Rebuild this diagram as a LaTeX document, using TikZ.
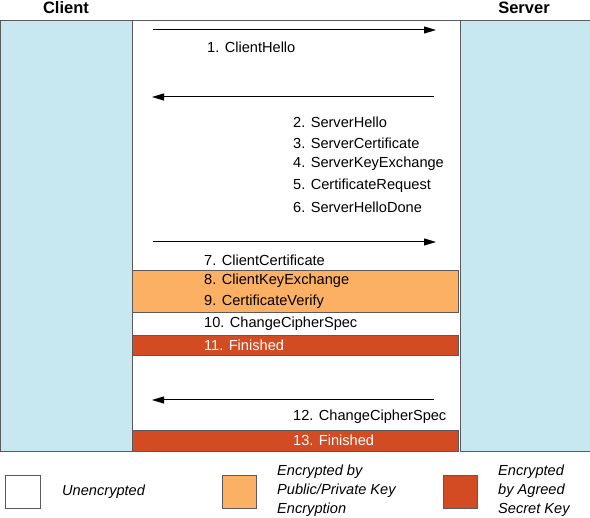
\documentclass[tikz,border=0pt]{standalone}
\usepackage{fontspec}
\setmainfont{Liberation Sans}
\usetikzlibrary{arrows.meta}
\definecolor{lblue}{RGB}{199,232,240}
\definecolor{orng}{RGB}{252,176,100}
\definecolor{rred}{RGB}{210,75,35}
\definecolor{edge}{RGB}{90,90,90}
\begin{document}
\begin{tikzpicture}[x=1pt,y=-1pt,
  lbl/.style={anchor=west,inner sep=0pt,font=\fontsize{14.6}{16}\selectfont},
  hdr/.style={inner sep=0pt,font=\fontsize{16.5}{18}\selectfont\bfseries},
  msg/.style={-{Triangle[length=12pt,width=7pt]},line width=1pt},
  band/.style={draw=edge,line width=0.8pt},
  leg/.style={anchor=west,inner sep=0pt,align=left,font=\fontsize{14.6}{19}\selectfont\itshape}]
\useasboundingbox (0,0) rectangle (590,518);
% columns
\fill[lblue,draw=edge,line width=0.8pt] (0,20) rectangle (132,451);
\fill[lblue,draw=edge,line width=0.8pt] (460,20) rectangle (590,451);
\draw[edge,line width=0.8pt] (0,20) -- (590,20);
\draw[edge,line width=0.8pt] (132,20) -- (132,451);
\draw[edge,line width=0.8pt] (460,20) -- (460,451);
\node[hdr] (client) at (66,8) {Client};
\node[hdr] (server) at (524,8) {Server};
% arrow 1
\coordinate (a1s) at (153,30); \coordinate (a1e) at (436,30);
\draw[msg] (a1s) -- (a1e);
\node[lbl] (m1) at (207,47) {1. ClientHello};
% arrow 2
\coordinate (a2s) at (434,97); \coordinate (a2e) at (152,97);
\draw[msg] (a2s) -- (a2e);
\node[lbl] (m2) at (293,122) {2. ServerHello};
\node[lbl] (m3) at (293,143) {3. ServerCertificate};
\node[lbl] (m4) at (293,164) {4. ServerKeyExchange};
\node[lbl] (m5) at (293,186) {5. CertificateRequest};
\node[lbl] (m6) at (293,207) {6. ServerHelloDone};
% arrow 7
\coordinate (a7s) at (153,242); \coordinate (a7e) at (436,242);
\draw[msg] (a7s) -- (a7e);
\node[lbl] (m7) at (204,260) {7. ClientCertificate};
\fill[orng,band] (132,270) rectangle (458,312);
\node[lbl] (m8) at (204,281) {8. ClientKeyExchange};
\node[lbl] (m9) at (204,302) {9. CertificateVerify};
\node[lbl] (m10) at (204,324) {10. ChangeCipherSpec};
\fill[rred,band] (132,335) rectangle (458,355);
\node[lbl,text=white] (m11) at (204,345) {11. Finished};
% arrow 12
\coordinate (a12s) at (434,400); \coordinate (a12e) at (152,400);
\draw[msg] (a12s) -- (a12e);
\node[lbl] (m12) at (293,417) {12. ChangeCipherSpec};
\fill[rred,band] (132,430) rectangle (458,451);
\node[lbl,text=white] (m13) at (293,440) {13. Finished};
% legend
\draw[band,fill=white] (5,475) rectangle (40,508);
\node[leg] (l1) at (62,492) {Unencrypted};
\draw[band,fill=orng] (222,475) rectangle (256,508);
\node[leg] (l2) at (277,491) {Encrypted by\\Public/Private Key\\Encryption};
\draw[band,fill=rred] (443,475) rectangle (477,508);
\node[leg] (l3) at (498,491) {Encrypted\\by Agreed\\Secret Key};
\end{tikzpicture}
\end{document}
